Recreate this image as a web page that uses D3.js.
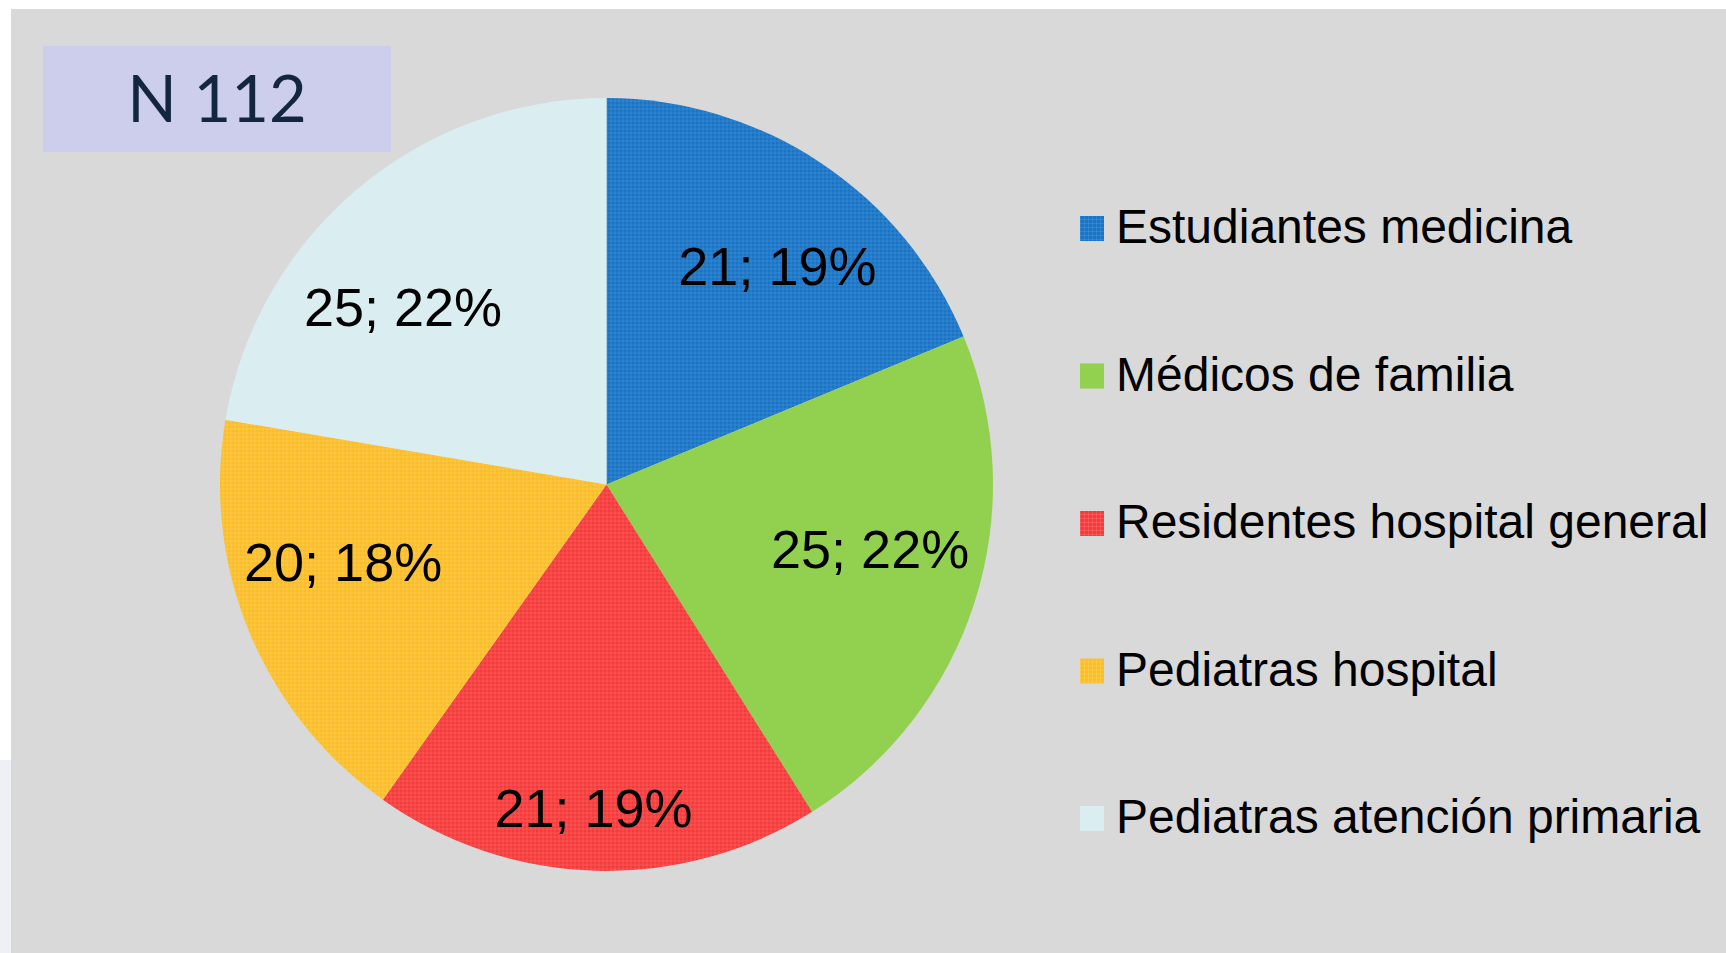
<!DOCTYPE html>
<html>
<head>
<meta charset="utf-8">
<script src="https://cdn.jsdelivr.net/npm/d3@7"></script>
<style>
  html, body { margin: 0; padding: 0; background: #ffffff; }
  svg { display: block; }
</style>
</head>
<body>
<script>
// ---- data ----
const categories = ["Estudiantes medicina", "Médicos de familia", "Residentes hospital general", "Pediatras hospital", "Pediatras atención primaria"];
const counts = [21, 25, 21, 20, 25];
const percents = [19, 22, 19, 18, 22];
const totalLabel = "N 112";

// ---- style / layout ----
const baseColors = ["#1a74c4", "#92d050", "#f43a3a", "#fbbd26", "#daedf0"];
const gridColors = ["#4b98dc", null, "#ff7070", "#fdd46a", null];
const labelRadiusFrac = [0.719, 0.702, 0.836, 0.710, 0.700];
const labelAngleShift = [4.2, -4.0, 0.7, 6.2, -8.6];

const W = 1726, H = 953;
const cx = 606.5, cy = 484.5, R = 386.5;

const svg = d3.select("body").append("svg").attr("width", W).attr("height", H);

// background
svg.append("rect").attr("x", 0).attr("y", 0).attr("width", W).attr("height", H).attr("fill", "#ffffff");
svg.append("rect").attr("x", 0).attr("y", 760).attr("width", 11).attr("height", H - 760).attr("fill", "#eef0f5");
svg.append("rect").attr("x", 11).attr("y", 9).attr("width", W - 11).attr("height", H - 9).attr("fill", "#d9d9d9");

// patterns
const defs = svg.append("defs");
baseColors.forEach((c, i) => {
  const p = defs.append("pattern").attr("id", "pat" + i)
    .attr("patternUnits", "userSpaceOnUse").attr("width", 4).attr("height", 4);
  p.append("rect").attr("width", 4).attr("height", 4).attr("fill", c);
  if (gridColors[i]) {
    p.append("rect").attr("x", 0).attr("y", 0).attr("width", 4).attr("height", 1).attr("fill", gridColors[i]).attr("opacity", 0.45);
    p.append("rect").attr("x", 0).attr("y", 0).attr("width", 1).attr("height", 4).attr("fill", gridColors[i]).attr("opacity", 0.45);
  }
});
const fillFor = i => gridColors[i] ? "url(#pat" + i + ")" : baseColors[i];

// pie
const data = categories.map((c, i) => ({ cat: c, count: counts[i], pct: percents[i], i }));
const pie = d3.pie().value(d => d.count).sort(null).startAngle(0).endAngle(2 * Math.PI);
const arcs = pie(data);
const arc = d3.arc().innerRadius(0).outerRadius(R);

const g = svg.append("g").attr("transform", `translate(${cx},${cy})`);
g.selectAll("path.slice").data(arcs).join("path")
  .attr("class", "slice")
  .attr("d", arc)
  .attr("fill", d => fillFor(d.data.i));

// data labels
g.selectAll("text.lbl").data(arcs).join("text")
  .attr("class", "lbl")
  .attr("transform", d => {
    const mid = (d.startAngle + d.endAngle) / 2 + labelAngleShift[d.data.i] * Math.PI / 180;
    const r = R * labelRadiusFrac[d.data.i];
    return `translate(${r * Math.sin(mid)},${-r * Math.cos(mid)})`;
  })
  .attr("text-anchor", "middle")
  .attr("dy", "0.36em")
  .attr("font-family", "'Liberation Sans', Arial, sans-serif")
  .attr("font-size", 54)
  .attr("fill", "#000000")
  .text(d => `${d.data.count}; ${d.data.pct}%`);

// legend
const legendY = d3.scalePoint().domain(categories).range([243, 833]);
const leg = svg.append("g");
const items = leg.selectAll("g.item").data(data).join("g")
  .attr("class", "item")
  .attr("transform", d => `translate(1080,${legendY(d.cat)})`);
items.append("rect")
  .attr("x", 0).attr("y", -27).attr("width", 24).attr("height", 25)
  .attr("fill", d => fillFor(d.i));
items.append("text")
  .attr("x", 36)
  .attr("y", 0)
  .attr("font-family", "'Liberation Sans', Arial, sans-serif")
  .attr("font-size", 48)
  .attr("fill", "#000000")
  .text(d => d.cat);

// N box
svg.append("rect").attr("x", 43).attr("y", 46).attr("width", 348).attr("height", 106).attr("fill", "#cdcdec");
svg.append("text")
  .attr("x", 217).attr("y", 99)
  .attr("dy", "0.36em")
  .attr("text-anchor", "middle")
  .attr("font-family", "Lato, 'Open Sans', sans-serif")
  .attr("font-size", 65)
  .attr("fill", "#13263f")
  .text(totalLabel);
</script>
</body>
</html>
